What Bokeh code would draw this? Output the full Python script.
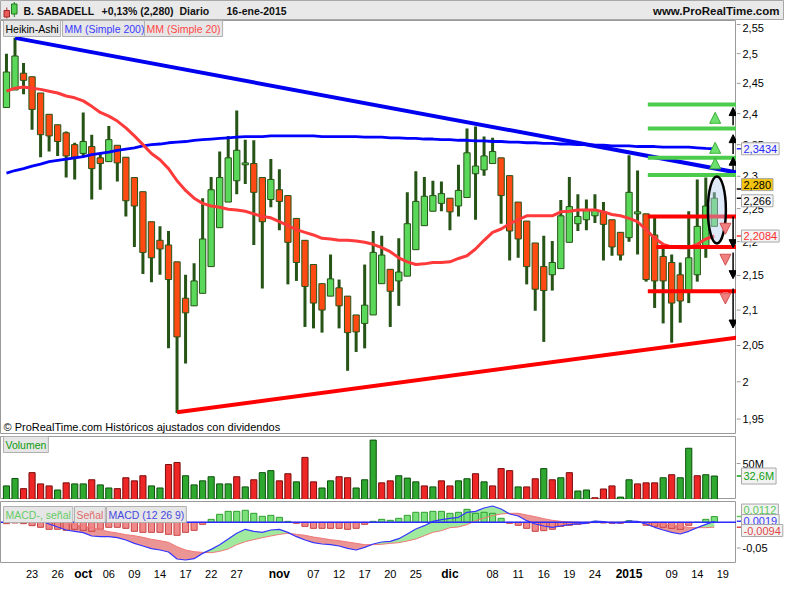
from bokeh.plotting import figure
from bokeh.models import (Range1d, Label, Arrow, NormalHead, Span)
from bokeh.layouts import column, row
from bokeh.embed import file_html
from bokeh.resources import INLINE
from bokeh.core.properties import value

FONT = "Liberation Sans"

# ---------------- data ----------------
bar_index = list(range(84))  # trading days 18-sep-2014 .. 16-ene-2015

tick_index = [3, 6, 9, 12, 15, 18, 21, 24, 27, 32, 36, 39, 42, 45, 48, 52, 57,
              60, 63, 66, 69, 73, 78, 81, 84]
tick_text = ["23", "26", "oct", "06", "09", "14", "17", "22", "27", "nov", "07",
             "12", "17", "20", "25", "dic", "08", "11", "16", "19", "24", "2015",
             "09", "14", "19"]
month_labels = ["oct", "nov", "dic", "2015"]

price_ticks = [1.95, 2.0, 2.05, 2.1, 2.15, 2.2, 2.25, 2.3, 2.35, 2.4, 2.45, 2.5, 2.55]
price_tick_text = ["1,95", "2", "2,05", "2,1", "2,15", "2,2", "2,25", "2,3", "2,35",
                   "2,4", "2,45", "2,5", "2,55"]
volume_ticks = [50]
volume_tick_text = ["50M"]
macd_ticks = [-0.05]
macd_tick_text = ["-0,05"]

ha_open = [2.410, 2.439, 2.467, 2.461, 2.434, 2.399, 2.382, 2.369, 2.350, 2.336,
           2.347, 2.329, 2.323, 2.349, 2.330, 2.298, 2.276, 2.230, 2.202, 2.195,
           2.170, 2.117, 2.106, 2.124, 2.163, 2.221, 2.260, 2.293, 2.318, 2.320,
           2.298, 2.264, 2.279, 2.270, 2.235, 2.202, 2.166, 2.138, 2.120, 2.132,
           2.120, 2.093, 2.081, 2.093, 2.138, 2.159, 2.142, 2.149, 2.188, 2.224,
           2.246, 2.258, 2.266, 2.254, 2.267, 2.304, 2.310, 2.320, 2.329, 2.301,
           2.260, 2.231, 2.198, 2.163, 2.151, 2.160, 2.199, 2.227, 2.233, 2.239,
           2.245, 2.233, 2.214, 2.206, 2.242, 2.242, 2.210, 2.178, 2.169, 2.151,
           2.126, 2.151, 2.194, 2.223]
ha_high = [2.500, 2.527, 2.484, 2.461, 2.434, 2.399, 2.382, 2.371, 2.353, 2.402,
           2.366, 2.335, 2.380, 2.349, 2.330, 2.298, 2.276, 2.230, 2.223, 2.216,
           2.170, 2.151, 2.168, 2.266, 2.299, 2.339, 2.364, 2.405, 2.358, 2.357,
           2.298, 2.327, 2.311, 2.270, 2.235, 2.202, 2.166, 2.138, 2.181, 2.144,
           2.120, 2.093, 2.166, 2.216, 2.209, 2.159, 2.205, 2.275, 2.308, 2.299,
           2.293, 2.292, 2.266, 2.318, 2.376, 2.379, 2.363, 2.361, 2.329, 2.301,
           2.260, 2.231, 2.198, 2.209, 2.201, 2.263, 2.299, 2.272, 2.264, 2.272,
           2.260, 2.233, 2.214, 2.333, 2.309, 2.242, 2.238, 2.191, 2.181, 2.169,
           2.246, 2.295, 2.298, 2.275]
ha_low = [2.410, 2.439, 2.432, 2.374, 2.330, 2.339, 2.332, 2.298, 2.295, 2.332,
          2.264, 2.279, 2.323, 2.292, 2.238, 2.192, 2.152, 2.140, 2.151, 2.046,
          1.958, 2.025, 2.106, 2.124, 2.163, 2.221, 2.260, 2.272, 2.288, 2.195,
          2.131, 2.252, 2.217, 2.137, 2.142, 2.076, 2.074, 2.068, 2.120, 2.074,
          2.015, 2.041, 2.046, 2.093, 2.138, 2.076, 2.106, 2.149, 2.188, 2.224,
          2.246, 2.246, 2.217, 2.238, 2.267, 2.233, 2.301, 2.320, 2.227, 2.172,
          2.176, 2.137, 2.099, 2.055, 2.128, 2.160, 2.199, 2.216, 2.217, 2.228,
          2.172, 2.179, 2.172, 2.200, 2.181, 2.141, 2.103, 2.081, 2.054, 2.082,
          2.110, 2.141, 2.176, 2.223]
ha_close = [2.469, 2.496, 2.455, 2.407, 2.366, 2.364, 2.355, 2.332, 2.330, 2.355,
            2.312, 2.320, 2.358, 2.321, 2.262, 2.254, 2.184, 2.176, 2.189, 2.144,
            2.062, 2.096, 2.142, 2.204, 2.279, 2.298, 2.329, 2.341, 2.321, 2.275,
            2.230, 2.295, 2.261, 2.199, 2.169, 2.134, 2.110, 2.100, 2.145, 2.106,
            2.068, 2.069, 2.107, 2.184, 2.180, 2.127, 2.155, 2.227, 2.261, 2.269,
            2.270, 2.273, 2.245, 2.278, 2.337, 2.316, 2.332, 2.339, 2.270, 2.216,
            2.204, 2.163, 2.130, 2.128, 2.169, 2.239, 2.253, 2.238, 2.247, 2.248,
            2.226, 2.192, 2.180, 2.275, 2.245, 2.144, 2.142, 2.142, 2.110, 2.113,
            2.176, 2.223, 2.254, 2.266]

sma200 = [2.305, 2.309, 2.312, 2.316, 2.319, 2.323, 2.325, 2.327, 2.329, 2.331,
          2.334, 2.336, 2.338, 2.341, 2.343, 2.345, 2.348, 2.350, 2.351, 2.353,
          2.354, 2.355, 2.357, 2.358, 2.359, 2.360, 2.361, 2.362, 2.363, 2.363,
          2.363, 2.364, 2.364, 2.364, 2.364, 2.364, 2.364, 2.363, 2.363, 2.363,
          2.363, 2.363, 2.362, 2.362, 2.362, 2.361, 2.361, 2.360, 2.360, 2.359,
          2.359, 2.358, 2.358, 2.357, 2.357, 2.356, 2.356, 2.355, 2.355, 2.354,
          2.354, 2.353, 2.353, 2.352, 2.352, 2.351, 2.351, 2.350, 2.350, 2.349,
          2.349, 2.348, 2.348, 2.348, 2.347, 2.347, 2.347, 2.346, 2.346, 2.346,
          2.346, 2.345, 2.344, 2.3434]
sma20 = [2.437, 2.442, 2.444, 2.442, 2.440, 2.437, 2.434, 2.429, 2.426, 2.421,
         2.412, 2.402, 2.396, 2.388, 2.377, 2.364, 2.350, 2.336, 2.326, 2.312,
         2.293, 2.278, 2.266, 2.258, 2.254, 2.252, 2.249, 2.248, 2.246, 2.242,
         2.238, 2.236, 2.230, 2.224, 2.218, 2.214, 2.210, 2.205, 2.204, 2.202,
         2.202, 2.201, 2.199, 2.196, 2.191, 2.185, 2.176, 2.170, 2.166, 2.167,
         2.169, 2.169, 2.170, 2.175, 2.179, 2.189, 2.202, 2.214, 2.219, 2.227,
         2.233, 2.239, 2.239, 2.239, 2.239, 2.245, 2.246, 2.248, 2.248, 2.248,
         2.245, 2.241, 2.239, 2.235, 2.230, 2.218, 2.205, 2.196, 2.192, 2.191,
         2.191, 2.196, 2.204, 2.2084]

volume_m = [18.9, 29.2, 15.1, 37.3, 21.7, 18.9, 13.2, 23.1, 21.7, 21.7, 27.4, 20.3,
            16.0, 15.1, 30.2, 25.9, 33.0, 18.9, 16.0, 48.6, 51.4, 33.0, 20.3, 25.9,
            31.6, 21.7, 21.7, 31.6, 17.5, 27.4, 37.3, 40.1, 25.9, 35.8, 24.5, 58.5,
            24.5, 16.0, 25.9, 31.6, 30.2, 16.0, 27.4, 82.5, 23.1, 25.9, 33.0, 29.7,
            24.5, 18.9, 17.5, 25.9, 18.9, 25.9, 28.8, 35.8, 24.5, 18.9, 42.9, 40.1,
            17.5, 17.5, 28.8, 42.9, 27.4, 30.2, 37.3, 11.8, 13.2, 2.4, 14.6, 18.9,
            3.3, 27.4, 21.7, 23.1, 23.1, 30.2, 34.4, 30.2, 71.2, 33.0, 34.4, 32.6]
volume_up = "ggrrrrgrggrggrrrrggrrggggggrgrggrrgrrggrrgggrrgggrgrrggrgrrrgrrgrgrggrrrggrrrgrggrgg"

macd = [0.0240, 0.0214, 0.0169, 0.0104, 0.0032, -0.0032, -0.0091, -0.0149, -0.0175,
        -0.0201, -0.0266, -0.0279, -0.0279, -0.0299, -0.0344, -0.0409, -0.0461,
        -0.0513, -0.0539, -0.0578, -0.0714, -0.0733, -0.0707, -0.0604, -0.0526,
        -0.0435, -0.0325, -0.0214, -0.0136, -0.0175, -0.0195, -0.0149, -0.0136,
        -0.0195, -0.0279, -0.0344, -0.0396, -0.0422, -0.0435, -0.0461, -0.0506,
        -0.0539, -0.0487, -0.0422, -0.0383, -0.0370, -0.0318, -0.0227, -0.0130,
        -0.0065, 0.0019, 0.0052, 0.0078, 0.0097, 0.0195, 0.0214, 0.0279, 0.0318,
        0.0260, 0.0162, 0.0123, 0.0032, -0.0032, -0.0071, -0.0097, -0.0071,
        -0.0045, -0.0032, -0.0019, 0.0026, 0.0013, -0.0013, -0.0013, 0.0026,
        0.0019, -0.0032, -0.0097, -0.0149, -0.0195, -0.0227, -0.0175, -0.0104,
        -0.0039, 0.0019]
signal = [0.0266, 0.0227, 0.0195, 0.0162, 0.0123, 0.0084, 0.0039, -0.0006, -0.0045,
          -0.0071, -0.0104, -0.0143, -0.0182, -0.0208, -0.0240, -0.0260, -0.0292,
          -0.0331, -0.0357, -0.0389, -0.0474, -0.0539, -0.0571, -0.0584, -0.0591,
          -0.0565, -0.0519, -0.0435, -0.0376, -0.0337, -0.0299, -0.0266, -0.0234,
          -0.0214, -0.0234, -0.0253, -0.0286, -0.0312, -0.0337, -0.0357, -0.0383,
          -0.0409, -0.0435, -0.0435, -0.0428, -0.0409, -0.0396, -0.0363, -0.0325,
          -0.0260, -0.0195, -0.0162, -0.0104, -0.0091, -0.0045, 0.0032, 0.0084,
          0.0130, 0.0162, 0.0175, 0.0175, 0.0143, 0.0110, 0.0071, 0.0039, 0.0019,
          0.0006, 0.0000, -0.0006, -0.0006, 0.0000, 0.0000, 0.0000, 0.0006, 0.0006,
          0.0000, -0.0013, -0.0032, -0.0052, -0.0078, -0.0097, -0.0104, -0.0104,
          -0.0094]
macd_hist = [-0.0026, -0.0013, -0.0026, -0.0065, -0.0097, -0.0136, -0.0136, -0.0156,
             -0.0136, -0.0156, -0.0175, -0.0136, -0.0097, -0.0097, -0.0117, -0.0175,
             -0.0195, -0.0195, -0.0195, -0.0234, -0.0253, -0.0195, -0.0156, -0.0039,
             0.0058, 0.0156, 0.0214, 0.0214, 0.0234, 0.0175, 0.0117, 0.0136, 0.0097,
             0.0019, -0.0019, -0.0078, -0.0117, -0.0117, -0.0117, -0.0117, -0.0136,
             -0.0117, -0.0039, 0.0019, 0.0058, 0.0039, 0.0078, 0.0136, 0.0195,
             0.0195, 0.0214, 0.0214, 0.0175, 0.0195, 0.0253, 0.0175, 0.0195, 0.0175,
             0.0078, -0.0019, -0.0058, -0.0117, -0.0175, -0.0162, -0.0136, -0.0078,
             -0.0058, -0.0039, -0.0019, 0.0019, -0.0013, -0.0019, -0.0019, 0.0032,
             0.0000, -0.0058, -0.0078, -0.0097, -0.0117, -0.0136, -0.0058, 0.0000,
             0.0058, 0.0112]

# drawn objects (trend lines, levels) in (bar index, price)
down_trend = ([1, 85.6], [2.527, 2.306])
up_trend = ([20, 85.6], [1.959, 2.061])
resist_levels = [2.415, 2.376, 2.329, 2.302]
support_levels = [2.238, 2.192, 2.127]
support_start = [75.2, 76.2, 75.2]
up_moves = [(2.381, 2.410), (2.335, 2.366), (2.3096, 2.330)]
down_moves = [(2.238, 2.191), (2.184, 2.1453), (2.131, 2.0745)]
green_marks = [(2.3833, 2.4022), (2.3351, 2.3537), (2.3122, 2.3290)]
red_marks = [(2.2271, 2.2111), (2.1807, 2.1650), (2.1255, 2.1086)]

# ---------------- layout helpers ----------------
FW = 736   # plot frame width
RB = 48    # right value column width
xr = Range1d(-0.7, 85.6)

GREEN_BODY = "#5ad85a"
RED_BODY = "#ff4a14"
EDGE = "#265416"
GRAY = "#9a9a9a"


def make_fig(h, yr, ytype="linear", top=0):
    f = figure(frame_width=FW, frame_height=h, x_range=xr, y_range=yr,
               y_axis_type=ytype, y_axis_location=None, x_axis_location=None,
               output_backend="svg", toolbar_location=None,
               min_border_left=0, min_border_right=0, min_border_top=top,
               min_border_bottom=0)
    f.grid.visible = False
    f.outline_line_color = GRAY
    f.background_fill_color = "white"
    f.border_fill_color = "white"
    return f


def make_side(h, yr, ytype, ticks, labels, top=0, first_offsets=None):
    f = figure(frame_width=RB, frame_height=h, x_range=Range1d(0, RB), y_range=yr,
               y_axis_type=ytype, y_axis_location=None, x_axis_location=None,
               output_backend="svg", toolbar_location=None,
               min_border_left=0, min_border_right=0, min_border_top=top,
               min_border_bottom=0)
    f.grid.visible = False
    f.outline_line_color = None
    f.background_fill_color = "white"
    f.border_fill_color = "white"
    f.segment(x0=[0] * len(ticks), y0=ticks, x1=[4] * len(ticks), y1=ticks,
              line_color=GRAY, line_width=1)
    offs = first_offsets if first_offsets is not None else [0] * len(ticks)
    f.text(x=[6] * len(ticks), y=ticks, text=labels, y_offset=offs,
           text_font=value(FONT), text_font_size="11px", text_color="black",
           text_baseline="middle", text_align="left")
    return f


def tab(f, x, y, text, color, size="10.5px"):
    f.add_layout(Label(x=x, y=y, x_units="screen", y_units="screen", text=text,
                       text_color=color, text_font=FONT, text_font_size=size,
                       text_baseline="middle", background_fill_color="#e6e6e6",
                       border_line_color="#b0b0b0", padding=2))


def box(f, y, mark, text, color, bg):
    f.segment(x0=[0], y0=[mark], x1=[5], y1=[mark], line_color=color, line_width=1.5)
    f.add_layout(Label(x=5, y=y, x_units="data", y_units="data", text=text,
                       text_color=color, text_font=FONT, text_font_size="11px",
                       text_baseline="middle", background_fill_color=bg,
                       border_line_color="#a8a8a8", padding=2))


# ---------------- header ----------------
hdr = figure(frame_width=FW + RB, frame_height=20, x_range=Range1d(0, FW + RB),
             y_range=Range1d(20, 0), x_axis_location=None, y_axis_location=None,
             output_backend="svg", toolbar_location=None, min_border=0)
hdr.grid.visible = False
hdr.background_fill_color = "#e9e9e9"
hdr.border_fill_color = "white"
hdr.outline_line_color = "#a8a8a8"
hdr.segment(x0=[6.3, 13.8], y0=[7, 1.5], x1=[6.3, 13.8], y1=[18, 16.5],
            line_color=["#b03030", "#208020"], line_width=1)
hdr.quad(left=[3.5, 11], right=[9, 16.5], top=[10, 3.5], bottom=[16.5, 13.5],
         fill_color=["#e85a5a", "#55d055"], line_color=["#a02828", "#1f7a1f"])
hdr.text(x=[23, 101, 179, 226], y=[10.5] * 4,
         text=["B. SABADELL", "+0,13% (2,280)", "Diario", "16-ene-2015"],
         text_font=value(FONT), text_font_style="bold", text_font_size="10.5px",
         text_baseline="middle", text_color="#111111")
hdr.text(x=[FW + RB - 5], y=[10.5], text=["www.ProRealTime.com"],
         text_font=value(FONT), text_font_style="bold", text_font_size="11.5px",
         text_baseline="middle", text_align="right", text_color="#111111")

# ---------------- main price panel ----------------
yr_main = Range1d(1.9296, 2.557)
p = make_fig(414, yr_main, ytype="log")

body_top = [max(o, c) for o, c in zip(ha_open, ha_close)]
body_bot = [min(o, c) for o, c in zip(ha_open, ha_close)]
body_col = [GREEN_BODY if c >= o else RED_BODY for o, c in zip(ha_open, ha_close)]

p.segment(x0=bar_index, y0=ha_low, x1=bar_index, y1=ha_high, line_color=EDGE,
          line_width=3)
p.vbar(x=bar_index, width=0.74, top=body_top, bottom=body_bot, fill_color=body_col,
       line_color=EDGE, line_width=1)

p.line(bar_index, sma200, line_color="#0000ff", line_width=2.8)
p.line(bar_index, sma20, line_color="#ff3a3a", line_width=3)

p.line(down_trend[0], down_trend[1], line_color="#0000f0", line_width=4)
p.line(up_trend[0], up_trend[1], line_color="#ff0000", line_width=4)

for lvl in resist_levels:
    p.line([75.2, 85.6], [lvl, lvl], line_color="#4ccc4c", line_width=4)
for lvl, st in zip(support_levels, support_start):
    p.line([st, 85.6], [lvl, lvl], line_color="#ff0000", line_width=4)

for a, b in green_marks:
    p.add_layout(Arrow(x_start=83.1, y_start=a, x_end=83.1, y_end=b,
                       line_color="#5fd85f", line_width=5,
                       end=NormalHead(size=11, fill_color="#6ee06e",
                                      line_color="#3cae3c", line_width=1)))
for a, b in red_marks:
    p.add_layout(Arrow(x_start=84.3, y_start=a, x_end=84.3, y_end=b,
                       line_color="#f07a7a", line_width=5,
                       end=NormalHead(size=11, fill_color="#f08080",
                                      line_color="#d05050", line_width=1)))
for a, b in up_moves + down_moves:
    p.add_layout(Arrow(x_start=85.2, y_start=a, x_end=85.2, y_end=b,
                       line_color="black", line_width=1.5,
                       end=NormalHead(size=8, fill_color="black",
                                      line_color="black")))

p.ellipse(x=[83.3], y=[2.248], width=18, height=67, width_units="screen",
          height_units="screen", fill_color="#b8d0f0", fill_alpha=0.45,
          line_color="black", line_width=2.5)

tab(p, 3, 406, "Heikin-Ashi", "black")
tab(p, 62, 406, "MM (Simple 200)", "#3a3aff")
tab(p, 144, 406, "MM (Simple 20)", "#ff4848")
p.add_layout(Label(x=3, y=8, x_units="screen", y_units="screen",
                   text="© ProRealTime.com  Históricos ajustados con dividendos",
                   text_font=FONT, text_font_size="11px", text_baseline="middle",
                   text_color="black"))

ps = make_side(414, yr_main, "log", price_ticks, price_tick_text,
               first_offsets=[0] * 12 + [3])
box(ps, 2.3434, 2.3434, "2,3434", "#2828ff", "#f4f4f4")
box(ps, 2.287, 2.280, "2,280", "black", "#f3c410")
box(ps, 2.262, 2.266, "2,266", "black", "#f6f6f6")
box(ps, 2.2084, 2.2084, "2,2084", "#ff3030", "#f4f4f4")

# ---------------- volume panel ----------------
yr_vol = Range1d(0, 87.5)
pv = make_fig(63, yr_vol, top=2)
vcol = ["#2ea82e" if u == "g" else "#ee2626" for u in volume_up]
vedge = ["#0c4f0c" if u == "g" else "#7a0c0c" for u in volume_up]
pv.vbar(x=bar_index, width=0.72, top=volume_m, bottom=0, fill_color=vcol,
        line_color=vedge, line_width=1)
tab(pv, 3, 55, "Volumen", "#0a9a0a")
pvs = make_side(63, yr_vol, "linear", volume_ticks, volume_tick_text, top=2)
box(pvs, 32.6, 32.6, "32,6M", "#10a010", "#f2f2f2")

# ---------------- MACD panel ----------------
yr_macd = Range1d(-0.0801, 0.0405)
pm = make_fig(62, yr_macd, top=2)
upper = [max(m, s) for m, s in zip(macd, signal)]
lower = [min(m, s) for m, s in zip(macd, signal)]
pm.varea(x=bar_index, y1=signal, y2=upper, fill_color="#8ee68e", fill_alpha=0.85)
pm.varea(x=bar_index, y1=signal, y2=lower, fill_color="#e88282", fill_alpha=0.85)
hcol = ["#7ae07a" if h >= 0 else "#f08a8a" for h in macd_hist]
hedge = ["#2e9e2e" if h >= 0 else "#c84444" for h in macd_hist]
pm.vbar(x=bar_index, width=0.72, top=macd_hist, bottom=0, fill_color=hcol,
        line_color=hedge, line_width=1)
pm.line(bar_index, signal, line_color="#f07878", line_width=1)
pm.line(bar_index, macd, line_color="#3535ff", line_width=1.2)
pm.add_layout(Span(location=0, dimension="width", line_color="#2a2aff",
                   line_width=1.5))
tab(pm, 3, 49, "MACD-, señal", "#66cc66")
tab(pm, 74, 49, "Señal", "#e06a6a")
tab(pm, 106, 49, "MACD (12 26 9)", "#4848e0")

pms = make_side(62, yr_macd, "linear", macd_ticks, macd_tick_text, top=2)
box(pms, 0.0239, 0.0112, "0,0112", "#5cc85c", "#f2f2f2")
box(pms, 0.0035, 0.0019, "0,0019", "#3a3aff", "#f2f2f2")
box(pms, -0.0160, -0.0094, "-0,0094", "#e04848", "#f2f2f2")

# ---------------- date labels ----------------
px = figure(frame_width=FW, frame_height=20, x_range=xr, y_range=Range1d(0, 1),
            x_axis_location=None, y_axis_location=None, output_backend="svg",
            toolbar_location=None, min_border=0)
px.grid.visible = False
px.outline_line_color = None
px.background_fill_color = "white"
px.border_fill_color = "white"
day_x = [i for i, t in zip(tick_index, tick_text) if t not in month_labels]
day_t = [t for t in tick_text if t not in month_labels]
mon_x = [i for i, t in zip(tick_index, tick_text) if t in month_labels]
mon_t = [t for t in tick_text if t in month_labels]
px.text(x=day_x, y=[0.5] * len(day_x), text=day_t, text_font=value(FONT),
        text_font_size="11px", text_align="center", text_baseline="middle",
        text_color="black")
px.text(x=mon_x, y=[0.5] * len(mon_x), text=mon_t, text_font=value(FONT),
        text_font_size="12px", text_font_style="bold", text_align="center",
        text_baseline="middle", text_color="black")

layout = column(hdr, row(p, ps, spacing=0), row(pv, pvs, spacing=0),
                row(pm, pms, spacing=0), px, spacing=0)
open("out.html", "w").write(file_html(layout, INLINE))
